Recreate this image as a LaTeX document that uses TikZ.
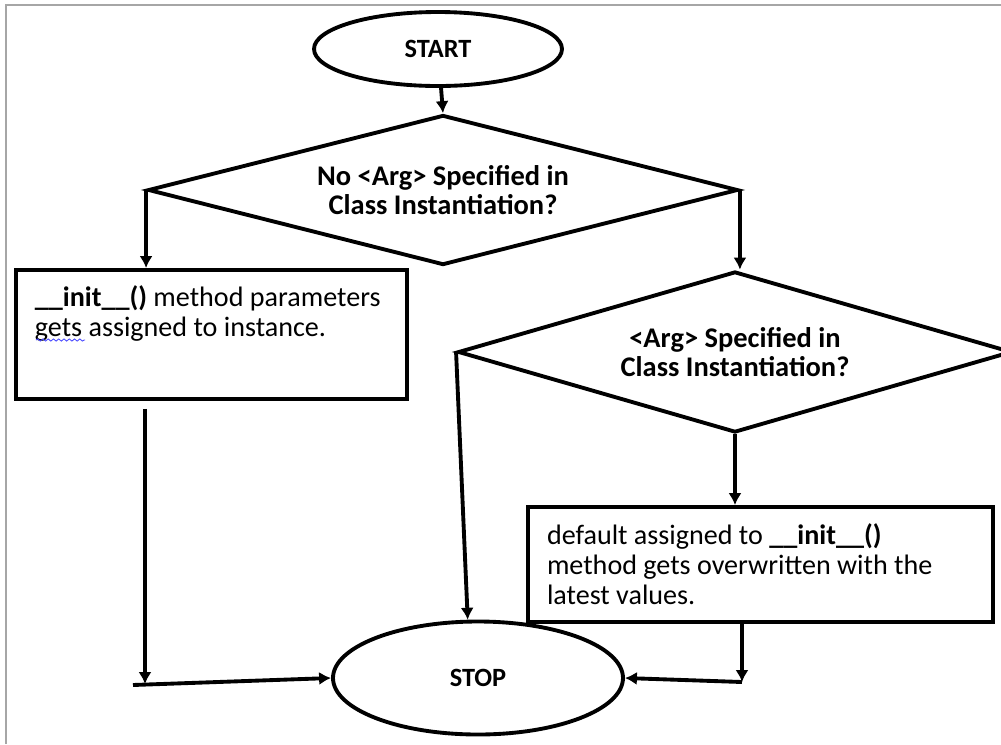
\documentclass[tikz,border=0pt]{standalone}
\usepackage{fontspec}
\setmainfont{Carlito}
\usetikzlibrary{shapes.geometric,decorations.pathmorphing,arrows.meta}

\begin{document}
\begin{tikzpicture}[
            every node/.style={font=\fontsize{16}{17}\selectfont},
            terminal/.style={ellipse, draw, line width=2.2pt, font=\fontsize{15}{16}\selectfont\bfseries},
            decision/.style={diamond, draw, line width=2.2pt, align=center, inner sep=0pt, font=\fontsize{16.2}{16.6}\selectfont\bfseries},
            process/.style={rectangle, draw, line width=2.2pt, align=flush left, inner xsep=0.38cm},
            arrow/.style={-{Latex[length=6.8pt,width=7.5pt]}, line width=2.2pt}
        ]
        \useasboundingbox (0,0) rectangle (20.02,-14.88);

        % page frame
        \draw[gray!70, line width=0.6pt] (0.12,-14.88) |- (20.02,-0.1);

        % Nodes
        \node[terminal, minimum width=4.96cm, minimum height=1.48cm] (start) at (8.76,-0.98) {START};

        \node[decision, aspect=3.9, minimum width=11.8cm, minimum height=3.0cm] (noarg) at (8.86,-3.8)
            {No <Arg> Specified in\\Class Instantiation?};

        \node[process, anchor=north west, text width=7.06cm, inner ysep=0.3cm,
              text height=0.44cm, text depth=1.54cm] (initbox) at (0.28,-5.36)
            {\textbf{\_\_init\_\_()} method parameters\\gets assigned to instance.};

        \node[decision, aspect=3.4, minimum width=11.08cm, minimum height=3.22cm] (witharg) at (14.7,-7.04)
            {<Arg> Specified in\\Class Instantiation?};

        \node[process, text width=8.54cm, minimum height=2.3cm] (overbox) at (15.21,-11.29)
            {default assigned to \textbf{\_\_init\_\_()}\\method gets overwritten with the\\latest values.};

        \node[terminal, minimum width=5.8cm, minimum height=2.26cm] (stop) at (9.56,-13.56) {STOP};

        % join points above the STOP line
        \coordinate (leftjoin) at (2.9,-13.68);
        \coordinate (leftend) at (2.66,-13.7);
        \coordinate (rightjoin) at (14.84,-13.64);

        % spelling mark under "gets"
        \draw[blue!70, line width=0.5pt, decorate, decoration={snake, amplitude=0.6pt, segment length=3pt}]
            (0.72,-6.8) -- (1.7,-6.8);

        % Edges
        \draw[arrow] (start) -- (noarg.north);
        \draw[arrow] (noarg.west) -- (noarg.west |- initbox.north);
        \draw[arrow] (noarg.east) -- (noarg.east |- witharg.north);
        \draw[arrow] (witharg.south) -- (witharg.south |- overbox.north);
        \draw[arrow] (witharg.west) -- (stop.100);

        % left branch into STOP
        \draw[arrow] ([yshift=-0.16cm]initbox.south -| leftjoin) -- (leftjoin);
        \draw[arrow] (leftend) -- (stop.west);

        % right branch into STOP
        \draw[arrow] (rightjoin |- overbox.south) -- (rightjoin);
        \draw[arrow] (rightjoin) -- (stop.east);

    \end{tikzpicture}
\end{document}
